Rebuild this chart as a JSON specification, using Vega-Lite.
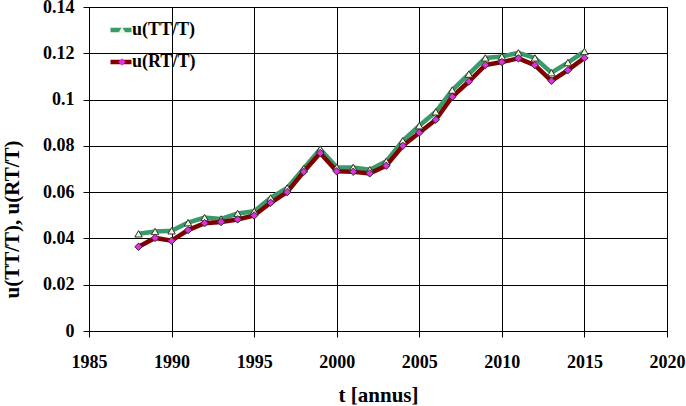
{
  "$schema": "https://vega.github.io/schema/vega-lite/v6.json",
  "width": 578,
  "height": 324,
  "autosize": {"type": "none"},
  "padding": {"left": 89, "top": 7, "right": 19, "bottom": 75},
  "background": "white",
  "config": {
    "view": {"stroke": "black", "strokeWidth": 1},
    "font": "Liberation Serif",
    "axis": {
      "domainColor": "black",
      "gridColor": "black",
      "gridOpacity": 1,
      "gridWidth": 1,
      "tickColor": "black",
      "tickSize": 6,
      "labelFont": "Liberation Serif",
      "labelFontWeight": "bold",
      "labelFontSize": 18,
      "labelColor": "black",
      "titleFont": "Liberation Serif",
      "titleFontWeight": "bold",
      "titleFontSize": 21,
      "titleColor": "black"
    },
    "legend": {
      "labelFont": "Liberation Serif",
      "labelFontWeight": "bold",
      "labelFontSize": 18,
      "labelColor": "black",
      "padding": 0
    }
  },
  "data": {
    "values": [
      {"year": 1988, "series": "u(TT/T)", "u": 0.0420},
      {"year": 1989, "series": "u(TT/T)", "u": 0.0430},
      {"year": 1990, "series": "u(TT/T)", "u": 0.0433},
      {"year": 1991, "series": "u(TT/T)", "u": 0.0468},
      {"year": 1992, "series": "u(TT/T)", "u": 0.0490},
      {"year": 1993, "series": "u(TT/T)", "u": 0.0484},
      {"year": 1994, "series": "u(TT/T)", "u": 0.0508},
      {"year": 1995, "series": "u(TT/T)", "u": 0.0517},
      {"year": 1996, "series": "u(TT/T)", "u": 0.0575},
      {"year": 1997, "series": "u(TT/T)", "u": 0.0618},
      {"year": 1998, "series": "u(TT/T)", "u": 0.0702},
      {"year": 1999, "series": "u(TT/T)", "u": 0.0786},
      {"year": 2000, "series": "u(TT/T)", "u": 0.0707},
      {"year": 2001, "series": "u(TT/T)", "u": 0.0707},
      {"year": 2002, "series": "u(TT/T)", "u": 0.0697},
      {"year": 2003, "series": "u(TT/T)", "u": 0.0733},
      {"year": 2004, "series": "u(TT/T)", "u": 0.0822},
      {"year": 2005, "series": "u(TT/T)", "u": 0.0887},
      {"year": 2006, "series": "u(TT/T)", "u": 0.0947},
      {"year": 2007, "series": "u(TT/T)", "u": 0.1041},
      {"year": 2008, "series": "u(TT/T)", "u": 0.1110},
      {"year": 2009, "series": "u(TT/T)", "u": 0.1180},
      {"year": 2010, "series": "u(TT/T)", "u": 0.1186},
      {"year": 2011, "series": "u(TT/T)", "u": 0.1202},
      {"year": 2012, "series": "u(TT/T)", "u": 0.1180},
      {"year": 2013, "series": "u(TT/T)", "u": 0.1116},
      {"year": 2014, "series": "u(TT/T)", "u": 0.1160},
      {"year": 2015, "series": "u(TT/T)", "u": 0.1208},
      {"year": 1988, "series": "u(RT/T)", "u": 0.0364},
      {"year": 1989, "series": "u(RT/T)", "u": 0.0402},
      {"year": 1990, "series": "u(RT/T)", "u": 0.0390},
      {"year": 1991, "series": "u(RT/T)", "u": 0.0436},
      {"year": 1992, "series": "u(RT/T)", "u": 0.0466},
      {"year": 1993, "series": "u(RT/T)", "u": 0.0471},
      {"year": 1994, "series": "u(RT/T)", "u": 0.0482},
      {"year": 1995, "series": "u(RT/T)", "u": 0.0499},
      {"year": 1996, "series": "u(RT/T)", "u": 0.0554},
      {"year": 1997, "series": "u(RT/T)", "u": 0.0600},
      {"year": 1998, "series": "u(RT/T)", "u": 0.0688},
      {"year": 1999, "series": "u(RT/T)", "u": 0.0769},
      {"year": 2000, "series": "u(RT/T)", "u": 0.0690},
      {"year": 2001, "series": "u(RT/T)", "u": 0.0688},
      {"year": 2002, "series": "u(RT/T)", "u": 0.0681},
      {"year": 2003, "series": "u(RT/T)", "u": 0.0714},
      {"year": 2004, "series": "u(RT/T)", "u": 0.0800},
      {"year": 2005, "series": "u(RT/T)", "u": 0.0857},
      {"year": 2006, "series": "u(RT/T)", "u": 0.0913},
      {"year": 2007, "series": "u(RT/T)", "u": 0.1012},
      {"year": 2008, "series": "u(RT/T)", "u": 0.1078},
      {"year": 2009, "series": "u(RT/T)", "u": 0.1149},
      {"year": 2010, "series": "u(RT/T)", "u": 0.1162},
      {"year": 2011, "series": "u(RT/T)", "u": 0.1178},
      {"year": 2012, "series": "u(RT/T)", "u": 0.1149},
      {"year": 2013, "series": "u(RT/T)", "u": 0.1081},
      {"year": 2014, "series": "u(RT/T)", "u": 0.1127},
      {"year": 2015, "series": "u(RT/T)", "u": 0.1180}
    ]
  },
  "encoding": {
    "x": {
      "field": "year", "type": "quantitative",
      "scale": {"domain": [1985, 2020], "nice": false, "zero": false},
      "axis": {
        "values": [1985, 1990, 1995, 2000, 2005, 2010, 2015, 2020],
        "format": "d",
        "title": "t [annus]",
        "labelPadding": 16,
        "titlePadding": 13,
        "labelFlush": false
      }
    },
    "y": {
      "field": "u", "type": "quantitative",
      "scale": {"domain": [0, 0.14], "nice": false},
      "axis": {
        "values": [0, 0.02, 0.04, 0.06, 0.08, 0.1, 0.12, 0.14],
        "format": "~g",
        "title": "u(TT/T), u(RT/T)",
        "labelPadding": 9,
        "titleAngle": 270,
        "titleX": -77,
        "titleY": 212,
        "titleAlign": "center",
        "titleBaseline": "middle",
        "labelFlush": false
      }
    }
  },
  "layer": [
    {
      "mark": {"type": "line", "strokeWidth": 4.5},
      "encoding": {
        "color": {
          "field": "series", "type": "nominal",
          "sort": "descending",
          "scale": {"range": ["#3a9a6c", "#800000"]},
          "legend": {
            "title": null,
            "orient": "none",
            "legendX": 19,
            "legendY": 13,
            "symbolType": "stroke",
            "symbolSize": 441,
            "symbolStrokeWidth": 4.5,
            "clipHeight": 20,
            "rowPadding": 12,
            "labelOffset": -2
          }
        }
      }
    },
    {
      "transform": [{"calculate": "datum.series", "as": "sym"}],
      "mark": {"type": "point", "filled": true, "size": 55, "stroke": "#303030", "strokeWidth": 1, "opacity": 1},
      "encoding": {
        "shape": {
          "field": "sym", "type": "nominal",
          "sort": "descending",
          "scale": {"range": ["triangle-up", "diamond"]},
          "legend": {
            "title": null,
            "orient": "none",
            "legendX": 24,
            "legendY": 13,
            "symbolSize": 55,
            "symbolStrokeColor": "#303030",
            "symbolStrokeWidth": 1,
            "clipHeight": 20,
            "rowPadding": 12,
            "labelOpacity": 0
          }
        },
        "fill": {
          "field": "sym", "type": "nominal",
          "sort": "descending",
          "scale": {"range": ["#f2f9d8", "#e030e0"]},
          "legend": {
            "title": null,
            "orient": "none",
            "legendX": 24,
            "legendY": 13,
            "symbolSize": 55,
            "symbolStrokeColor": "#303030",
            "symbolStrokeWidth": 1,
            "clipHeight": 20,
            "rowPadding": 12,
            "labelOpacity": 0
          }
        }
      }
    }
  ]
}
